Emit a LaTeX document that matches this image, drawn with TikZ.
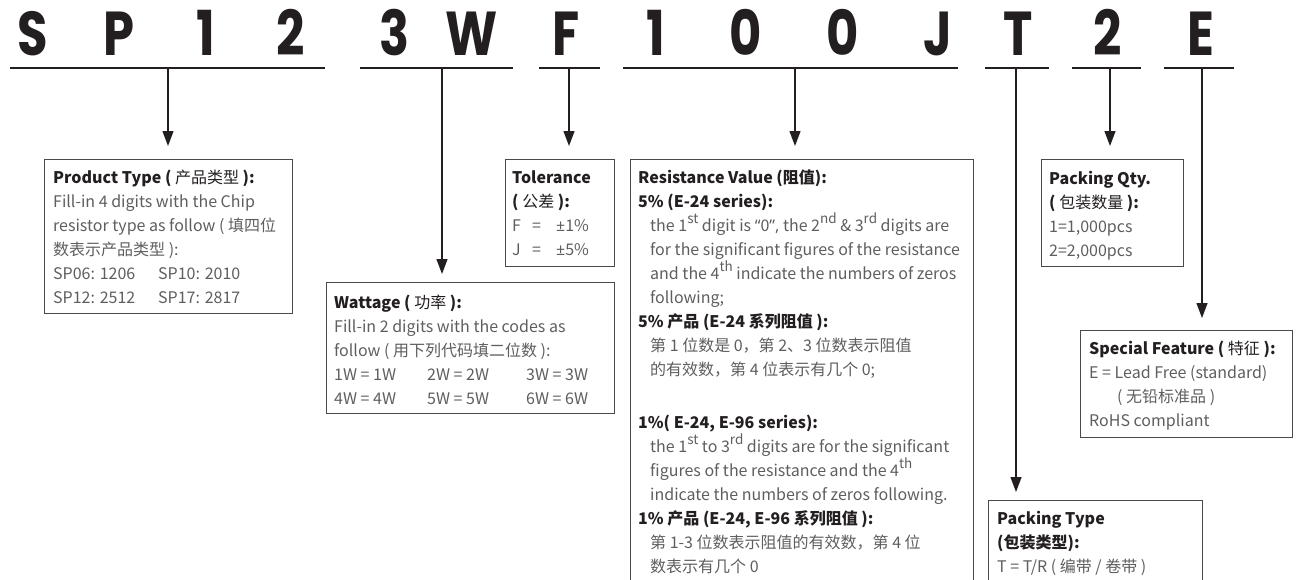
\documentclass[tikz,border=0pt]{standalone}
\usepackage{fontspec}
\setmainfont{Noto Sans CJK SC}
\newfontfamily\bigfont{Poppins}
\newfontfamily\latinf{Noto Sans}
\usetikzlibrary{arrows.meta}
\definecolor{ink}{HTML}{231F20}
\definecolor{boxgray}{HTML}{4A4A4A}
\definecolor{bodygray}{HTML}{5E5E5E}
\newcommand{\lns}[1]{\parbox[t]{420pt}{\fontsize{16}{24}\selectfont\lineskiplimit=-30pt\raggedright #1}}
\newcommand{\hd}[1]{\textcolor{ink}{\bfseries #1}}
\newcommand{\cj}[1]{{\mdseries #1}}
\newcommand{\sups}[1]{\raisebox{0.5em}{\fontsize{13.5}{13.5}\selectfont #1}}
\newcommand{\ind}{\hspace*{12pt}}
\newcommand{\codeltr}[1]{\scalebox{0.8}[1]{#1}}
\begin{document}
\begin{tikzpicture}[x=1pt,y=-1pt,
  box/.style={draw=boxgray, line width=1.2pt, rectangle, anchor=north west, inner sep=0pt},
  txt/.style={anchor=base west, inner sep=0pt, text=bodygray},
  big/.style={anchor=base, inner sep=0pt, font=\bigfont\bfseries\fontsize{62}{62}\selectfont, text=ink},
  uline/.style={draw=ink, line width=1.3pt},
  arr/.style={draw=ink, line width=1.3pt, -{Triangle[width=11pt,length=15pt]}}]
\useasboundingbox (0,0) rectangle (1299,579);

% code letters
\node[big] (l1) at (33,55) {\codeltr{S}};
\node[big] (l2) at (119,55) {\codeltr{P}};
\node[big] (l3) at (206,55) {\codeltr{1}};
\node[big] (l4) at (291,55) {\codeltr{2}};
\node[big] (l5) at (395,55) {\codeltr{3}};
\node[big] (l6) at (472,55) {\codeltr{W}};
\node[big] (l7) at (566,55) {\codeltr{F}};
\node[big] (l8) at (656,55) {\codeltr{1}};
\node[big] (l9) at (746,55) {\codeltr{0}};
\node[big] (l10) at (843,55) {\codeltr{0}};
\node[big] (l11) at (938,55) {\codeltr{J}};
\node[big] (l12) at (1018,55) {\codeltr{T}};
\node[big] (l13) at (1108,55) {\codeltr{2}};
\node[big] (l14) at (1201,55) {\codeltr{E}};

% underlines
\draw[uline] (10,68) -- (325,68);
\draw[uline] (360,68) -- (513,68);
\draw[uline] (539,68) -- (600,68);
\draw[uline] (623,68) -- (958,68);
\draw[uline] (985,68) -- (1049,68);
\draw[uline] (1072,68) -- (1141,68);
\draw[uline] (1164,68) -- (1234,68);
\coordinate (u1) at (168,68);
\coordinate (u2) at (442,68);
\coordinate (u3) at (569,68);
\coordinate (u4) at (795,68);
\coordinate (u5) at (1016,68);
\coordinate (u6) at (1110,68);
\coordinate (u7) at (1202,68);

% boxes
\node[box, minimum width=248pt, minimum height=154pt] (prod) at (44,159) {};
\node[box, minimum width=288pt, minimum height=131pt] (watt) at (326,282) {};
\node[box, minimum width=109pt, minimum height=107pt] (tol) at (505,159) {};
\node[box, minimum width=343pt, minimum height=460pt] (res) at (630,159) {};
\node[box, minimum width=142pt, minimum height=107pt] (qty) at (1041,159) {};
\node[box, minimum width=212pt, minimum height=107pt] (spec) at (1080,330) {};
\node[box, minimum width=214pt, minimum height=120pt] (ptype) at (988,500) {};

% texts
\node[txt] (prodT) at ([shift={(9,24)}]prod.north west) {\lns{%
\hd{Product Type ( \cj{产品类型} ):}\\
Fill-in 4 digits with the Chip\\
resistor type as follow ( 填四位\\
数表示产品类型 ):\\
\makebox[105pt][l]{SP06: 1206}SP10: 2010\\
\makebox[105pt][l]{SP12: 2512}SP17: 2817}};

\node[txt] (wattT) at ([shift={(8,26)}]watt.north west) {\lns{%
\hd{Wattage ( \cj{功率} ):}\\
Fill-in 2 digits with the codes as\\
follow ( 用下列代码填二位数 ):\\
\makebox[93pt][l]{1W = 1W}\makebox[99pt][l]{2W = 2W}3W = 3W\\
\makebox[93pt][l]{4W = 4W}\makebox[99pt][l]{5W = 5W}6W = 6W}};

\node[txt] (tolT) at ([shift={(7,24)}]tol.north west) {\lns{%
\hd{Tolerance}\\
\hd{( \cj{公差} ):}\\
\makebox[20pt][l]{F}\makebox[24pt][l]{=}{\latinf ±}1\%\\
\makebox[20pt][l]{J}\makebox[24pt][l]{=}{\latinf ±}5\%}};

\node[txt] (resT) at ([shift={(8,24)}]res.north west) {\lns{%
\hd{Resistance Value (阻值):}\\
\hd{5\% (E-24 series):}\\
\ind the 1\sups{st} digit is {\latinf “}0{\latinf ”,} the 2\sups{nd} \& 3\sups{rd} digits are\\
\ind for the significant figures of the resistance\\
\ind and the 4\sups{th} indicate the numbers of zeros\\
\ind following;\\
\hd{5\% 产品 (E-24 系列阻值 ):}\\
\ind 第 1 位数是 0，第 2、3 位数表示阻值\\
\ind 的有效数，第 4 位表示有几个 0;\\[29pt]
\hd{1\%( E-24, E-96 series):}\\
\ind the 1\sups{st} to 3\sups{rd} digits are for the significant\\
\ind figures of the resistance and the 4\sups{th}\\
\ind indicate the numbers of zeros following.\\
\hd{1\% 产品 (E-24, E-96 系列阻值 ):}\\
\ind 第 1-3 位数表示阻值的有效数，第 4 位\\
\ind 数表示有几个 0}};

\node[txt] (qtyT) at ([shift={(8,25)}]qty.north west) {\lns{%
\hd{Packing Qty.}\\
\hd{( \cj{包装数量} ):}\\
1=1,000pcs\\
2=2,000pcs}};

\node[txt] (specT) at ([shift={(9,24)}]spec.north west) {\lns{%
\hd{Special Feature ( \cj{特征} ):}\\
E = Lead Free (standard)\\
\hspace*{28pt}( 无铅标准品 )\\
RoHS compliant}};

\node[txt] (ptypeT) at ([shift={(9,24)}]ptype.north west) {\lns{%
\hd{Packing Type}\\
\hd{(包装类型):}\\
T = T/R ( 编带 / 卷带 )}};

% arrows
\draw[arr, shorten >=13pt] (u1) -- (u1 |- prod.north);
\draw[arr, shorten >=8pt] (u2) -- (u2 |- watt.north);
\draw[arr, shorten >=13pt] (u3) -- (u3 |- tol.north);
\draw[arr, shorten >=13pt] (u4) -- (u4 |- res.north);
\draw[arr, shorten >=8pt] (u5) -- (u5 |- ptype.north);
\draw[arr, shorten >=13pt] (u6) -- (u6 |- qty.north);
\draw[arr, shorten >=12pt] (u7) -- (u7 |- spec.north);
\end{tikzpicture}
\end{document}
